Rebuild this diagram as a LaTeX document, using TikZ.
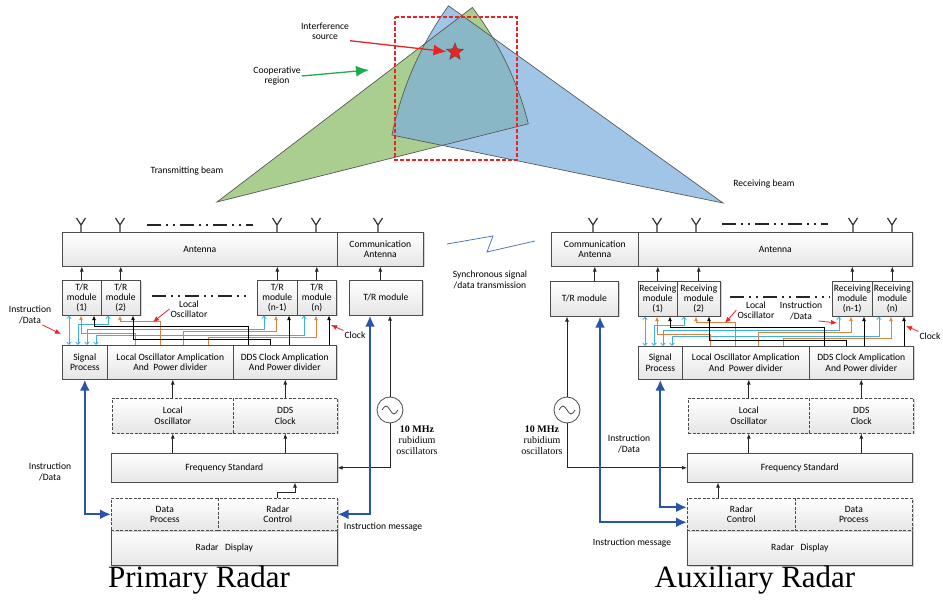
\documentclass[tikz,border=0pt]{standalone}
\usepackage{fontspec}
\setmainfont{Liberation Serif}
\setsansfont{Carlito}
\usetikzlibrary{arrows.meta,calc,shapes.geometric,shadows}

\definecolor{beamgreen}{RGB}{140,190,105}
\definecolor{beamblue}{RGB}{125,175,220}
\definecolor{instrcyan}{RGB}{60,175,230}
\definecolor{loorange}{RGB}{225,130,60}
\definecolor{msgblue}{RGB}{40,85,170}
\definecolor{coopgreen}{RGB}{30,170,80}
\definecolor{roired}{RGB}{235,35,35}

\newcommand{\trwires}[1]{%
  \coordinate (#1k3) at ($(#1m3.south west)+(32,0)$);
  \coordinate (#1k4) at ($(#1m4.south west)+(32,0)$);
  \draw[cywire] ($(#1m1.south west)+(7,0)$) -- ($(#1sp.north west)+(7,0)$);
  \draw[cywire] ($(#1m2.south west)+(7,0)$) -- ++(0,9) -| ($(#1sp.north west)+(16,0)$);
  \draw[cywire] ($(#1m3.south west)+(7,0)$) -- ++(0,14) -| ($(#1sp.north west)+(25,0)$);
  \draw[cywire] ($(#1m4.south west)+(7,0)$) -- ++(0,20) -| ($(#1sp.north west)+(34,0)$);
  \draw[orwire] ($(#1m1.south west)+(19,0)$) -- ++(0,18) -| ($(#1loa.north west)+(28,0)$);
  \draw[orwire] ($(#1m2.south west)+(19,0)$) -- ++(0,6) -| ($(#1loa.north west)+(53,0)$);
  \draw[orwire] ($(#1m3.south west)+(19,0)$) -- ++(0,16) -| ($(#1loa.north west)+(76,0)$);
  \draw[orwire] ($(#1m4.south west)+(19,0)$) -- ++(0,22) -| ($(#1loa.north west)+(101,0)$);
  \draw[bkwire] ($(#1m1.south west)+(32,0)$) -- ++(0,11) -| ($(#1dds.north west)+(15,0)$);
  \draw[bkwire] ($(#1m2.south west)+(32,0)$) -- ++(0,24) -| ($(#1dds.north west)+(37,0)$);
  \draw[bkwire] (#1k3) -- (#1k3 |- #1dds.north);
  \draw[bkwire] (#1k4) -- (#1k4 |- #1dds.north);
}

\begin{document}
\begin{tikzpicture}[x=1pt,y=-1pt,sz/.style 2 args={minimum width=#1pt,minimum height=#2pt}]
  \tikzstyle{unit}=[draw=black!70,line width=0.6pt,top color=white,bottom color=black!10,
                    drop shadow={shadow xshift=1.2pt,shadow yshift=-1.2pt,opacity=0.35},
                    font=\sffamily\fontsize{9.6}{10.4}\selectfont,align=center,inner sep=1pt,anchor=north west]
  \tikzstyle{dunit}=[unit,dash pattern=on 3pt off 1.5pt]
  \tikzstyle{lbl}=[font=\sffamily\fontsize{9.6}{10.4}\selectfont,align=center,inner sep=1pt]
  \tikzstyle{osclbl}=[font=\rmfamily\fontsize{10}{11}\selectfont,align=center,inner sep=1pt]
  \tikzstyle{title}=[font=\rmfamily\fontsize{31}{31}\selectfont,inner sep=0pt]
  \tikzstyle{arr}=[line width=0.7pt,black!85,-{Latex[length=5pt,width=4pt]}]
  \tikzstyle{cywire}=[instrcyan,line width=0.8pt,{Straight Barb[length=2.5pt,width=4.5pt]}-{Straight Barb[length=2.5pt,width=4.5pt]}]
  \tikzstyle{orwire}=[loorange,line width=0.8pt,{Latex[length=4.5pt,width=4pt]}-]
  \tikzstyle{bkwire}=[black,line width=0.7pt,{Latex[length=4.5pt,width=4pt]}-]
  \tikzstyle{msg}=[msgblue,line width=2.2pt,{Latex[length=11pt,width=10pt]}-{Latex[length=11pt,width=10pt]}]
  \tikzstyle{redptr}=[roired,line width=0.8pt,-{Latex[length=6pt,width=5pt]}]
  \tikzstyle{bigptr}=[line width=1.3pt,-{Latex[length=13pt,width=11pt]}]
  \tikzstyle{yant}=[line width=1.2pt,black!80]
  \tikzstyle{dashdot}=[line width=2pt,black!85,dash pattern=on 14pt off 5pt on 2pt off 5pt on 2pt off 5pt]
  \tikzstyle{osc}=[circle,draw=black!70,line width=0.8pt,fill=white,minimum size=26pt,inner sep=0pt]
  \tikzstyle{roi}=[color=roired,line width=1.3pt,dash pattern=on 4pt off 2pt]
  \useasboundingbox (0,0) rectangle (943,601);

  \coordinate (gapex) at (217,202);
  \coordinate (bapex) at (723,203);
  \begin{scope}
    \fill[beamgreen,fill opacity=0.75] (gapex) -- ++(-37.3:321) arc[start angle=37.3,end angle=14.1,radius=321pt] -- cycle;
    \fill[beamblue,fill opacity=0.72] (bapex) -- ++(-144.3:338) arc[start angle=144.3,end angle=168.4,radius=338pt] -- cycle;
  \end{scope}
  \draw[black!65,line width=0.7pt] (gapex) -- ++(-37.3:321) arc[start angle=37.3,end angle=14.1,radius=321pt] -- cycle;
  \draw[black!65,line width=0.7pt] (bapex) -- ++(-144.3:338) arc[start angle=144.3,end angle=168.4,radius=338pt] -- cycle;
  \node[star,star points=5,star point ratio=2.3,fill=roired,draw=black!70,minimum size=18pt,inner sep=0pt] (intsrc) at (455,52) {};
  \node[lbl] (intlbl) at (325,31) {Interference\\source};
  \node[lbl] (cooplbl) at (277,76) {Cooperative\\region};
  \coordinate (coopend) at (369,70);
  \draw[bigptr,roired,shorten >=3pt] (intlbl.south east) -- (intsrc.west);
  \draw[bigptr,coopgreen] (cooplbl.east) -- (coopend);
  \draw[roi] (395,17) -- (517,17) -- (517,160) -- (395,160) -- cycle;
  \node[lbl] (txlbl) at (187,171) {Transmitting beam};
  \node[lbl] (rxlbl) at (764,184) {Receiving beam};

  \foreach \x in {81,120,277,316,378,593,657,696,853,892}
    \draw[yant] (\x,232) -- (\x,225) -- (\x-4.5,218) (\x,225) -- (\x+4.5,218);
  \draw[dashdot] (147,225) -- (253,225);
  \draw[dashdot] (722,224) -- (828,224);
  \draw[dashdot] (152,296) -- (250,296);
  \draw[dashdot] (730,297) -- (830,297);

  \node[unit,sz={275}{34}] (lant) at (62,232) {Antenna};
  \node[unit,sz={86}{34}] (lcant) at (337,232) {Communication\\Antenna};
  \node[unit,sz={39}{35}] (lm1) at (62,280) {T/R\\module\\(1)};
  \node[unit,sz={39}{35}] (lm2) at (101,280) {T/R\\module\\(2)};
  \node[unit,sz={40}{35}] (lm3) at (257,280) {T/R\\module\\(n-1)};
  \node[unit,sz={39}{35}] (lm4) at (297,280) {T/R\\module\\(n)};
  \node[unit,sz={73}{35}] (ltr) at (349,280) {T/R module};
  \node[unit,sz={45}{34}] (lsp) at (62,345) {Signal\\Process};
  \node[unit,sz={126}{34}] (lloa) at (107,345) {Local Oscillator Amplication\\And\ \ Power divider};
  \node[unit,sz={103}{34}] (ldds) at (233,345) {DDS Clock Amplication\\And Power divider};
  \node[dunit,sz={121}{35}] (llo) at (112,398) {Local\\Oscillator};
  \node[dunit,sz={104}{35}] (ldc) at (233,398) {DDS\\Clock};
  \node[unit,sz={226}{29}] (lfs) at (111,453) {Frequency Standard};
  \node[unit,sz={226}{35}] (lrd) at (111,530) {Radar\ \ \ Display};
  \node[dunit,sz={107}{32}] (ldp) at (111,498) {Data\\Process};
  \node[dunit,sz={119}{32}] (lrc) at (218,498) {Radar\\Control};
  \node[osc] (losc) at (390,410) {};
  \draw[black!80,line width=0.7pt] (losc.center) ++(-8,0) sin ++(4,-4) cos ++(4,4) sin ++(4,4) cos ++(4,-4);

  \node[unit,sz={87}{34}] (rcant) at (551,232) {Communication\\Antenna};
  \node[unit,sz={274}{34}] (rant) at (638,232) {Antenna};
  \node[unit,sz={68}{35}] (rtr) at (550,281) {T/R module};
  \node[unit,sz={39}{35}] (rm1) at (638,281) {Receiving\\module\\(1)};
  \node[unit,sz={43}{35}] (rm2) at (677,281) {Receiving\\module\\(2)};
  \node[unit,sz={40}{35}] (rm3) at (832,281) {Receiving\\module\\(n-1)};
  \node[unit,sz={40}{35}] (rm4) at (872,281) {Receiving\\module\\(n)};
  \node[unit,sz={44}{33}] (rsp) at (638,346) {Signal\\Process};
  \node[unit,sz={127}{33}] (rloa) at (682,346) {Local Oscillator Amplication\\And\ \ Power divider};
  \node[unit,sz={104}{33}] (rdds) at (809,346) {DDS Clock Amplication\\And Power divider};
  \node[dunit,sz={121}{35}] (rlo) at (688,398) {Local\\Oscillator};
  \node[dunit,sz={104}{35}] (rdc) at (809,398) {DDS\\Clock};
  \node[unit,sz={225}{29}] (rfs) at (687,453) {Frequency Standard};
  \node[unit,sz={225}{35}] (rrd) at (687,530) {Radar\ \ \ Display};
  \node[dunit,sz={108}{32}] (rrc) at (687,498) {Radar\\Control};
  \node[dunit,sz={117}{32}] (rdp) at (795,498) {Data\\Process};
  \node[osc] (rosc) at (567,410) {};
  \draw[black!80,line width=0.7pt] (rosc.center) ++(-8,0) sin ++(4,-4) cos ++(4,4) sin ++(4,4) cos ++(4,-4);

  \foreach \m in {lm1,lm2,lm3,lm4}
    \draw[arr] (\m.north) -- (\m.north |- lant.south);
  \foreach \m in {rm1,rm2,rm3,rm4}
    \draw[arr] (\m.north) -- (\m.north |- rant.south);
  \draw[arr] (lcant.south |- ltr.north) -- (lcant.south);
  \draw[arr] (rcant.south |- rtr.north) -- (rcant.south);

  \trwires{l}
  \trwires{r}

  \draw[arr] (llo.north) -- (llo.north |- lloa.south);
  \draw[arr] (ldc.north) -- (ldc.north |- ldds.south);
  \draw[arr] (llo.south |- lfs.north) -- (llo.south);
  \draw[arr] (ldc.south |- lfs.north) -- (ldc.south);
  \draw[arr] (lrc.north) -- ++(0,-6) -| ($(lfs.south west)+(184,0)$);
  \draw[arr] (losc.north) -- (losc.north |- ltr.south);
  \draw[arr] (losc.south) |- (lfs.east);
  \draw[msg] (lsp.south) |- (ldp.west);
  \draw[msg] ($(ltr.south west)+(21,0)$) |- (lrc.east);

  \coordinate (rrcup) at ($(rrc.north west)+(31,0)$);
  \draw[arr] (rlo.north) -- (rlo.north |- rloa.south);
  \draw[arr] (rdc.north) -- (rdc.north |- rdds.south);
  \draw[arr] (rlo.south |- rfs.north) -- (rlo.south);
  \draw[arr] (rdc.south |- rfs.north) -- (rdc.south);
  \draw[arr] (rrcup) -- (rrcup |- rfs.south);
  \draw[arr] (rosc.north) -- (rosc.north |- rtr.south);
  \draw[arr] (rosc.south) |- (rfs.west);
  \draw[msg] (rsp.south) |- ($(rrc.west)+(0,-7)$);
  \draw[msg] ($(rtr.south west)+(50,0)$) |- ($(rrc.west)+(0,8)$);

  \node[lbl] (lid) at (30,315) {Instruction\\/Data};
  \node[lbl] (lloc) at (189,309) {Local\\Oscillator};
  \node[lbl] (lclk) at (355,335) {Clock};
  \node[lbl] (lmsgid) at (50,472) {Instruction\\/Data};
  \node[lbl] (lmsg) at (383,527) {Instruction message};
  \node[osclbl] (lrub) at (417,440) {\textbf{10 MHz}\\rubidium\\oscillators};
  \node[title] (ptitle) at (199,580) {Primary Radar};
  \coordinate (lidend) at (61,334);
  \coordinate (llocend) at (153,322);
  \coordinate (lclkend) at (331,325);
  \draw[redptr] ([xshift=-10pt]lid.south east) -- (lidend);
  \draw[redptr] (lloc.west) -- (llocend);
  \draw[redptr] (lclk.north west) -- (lclkend);

  \node[lbl] (rloc) at (756,310) {Local\\Oscillator};
  \node[lbl] (rid) at (801,311) {Instruction\\/Data};
  \node[lbl] (rclk) at (930,336) {Clock};
  \node[lbl] (rmsgid) at (629,444) {Instruction\\/Data};
  \node[lbl] (rmsg) at (632,543) {Instruction message};
  \node[osclbl] (rrub) at (542,440) {\textbf{10 MHz}\\rubidium\\oscillators};
  \node[title] (atitle) at (755,580) {Auxiliary Radar};
  \coordinate (rlocend) at (725,323);
  \coordinate (ridend) at (837,323);
  \coordinate (rclkend) at (906,326);
  \draw[redptr] (rloc.west) -- (rlocend);
  \draw[redptr] ([xshift=-5pt]rid.south east) -- (ridend);
  \draw[redptr] (rclk.north west) -- (rclkend);

  \node[lbl] (synclbl) at (490,280) {Synchronous signal\\/data transmission};
  \draw[msgblue!80,line width=0.8pt] (447,244) -- (493,236) -- (487,252) -- (535,241);
\end{tikzpicture}
\end{document}
